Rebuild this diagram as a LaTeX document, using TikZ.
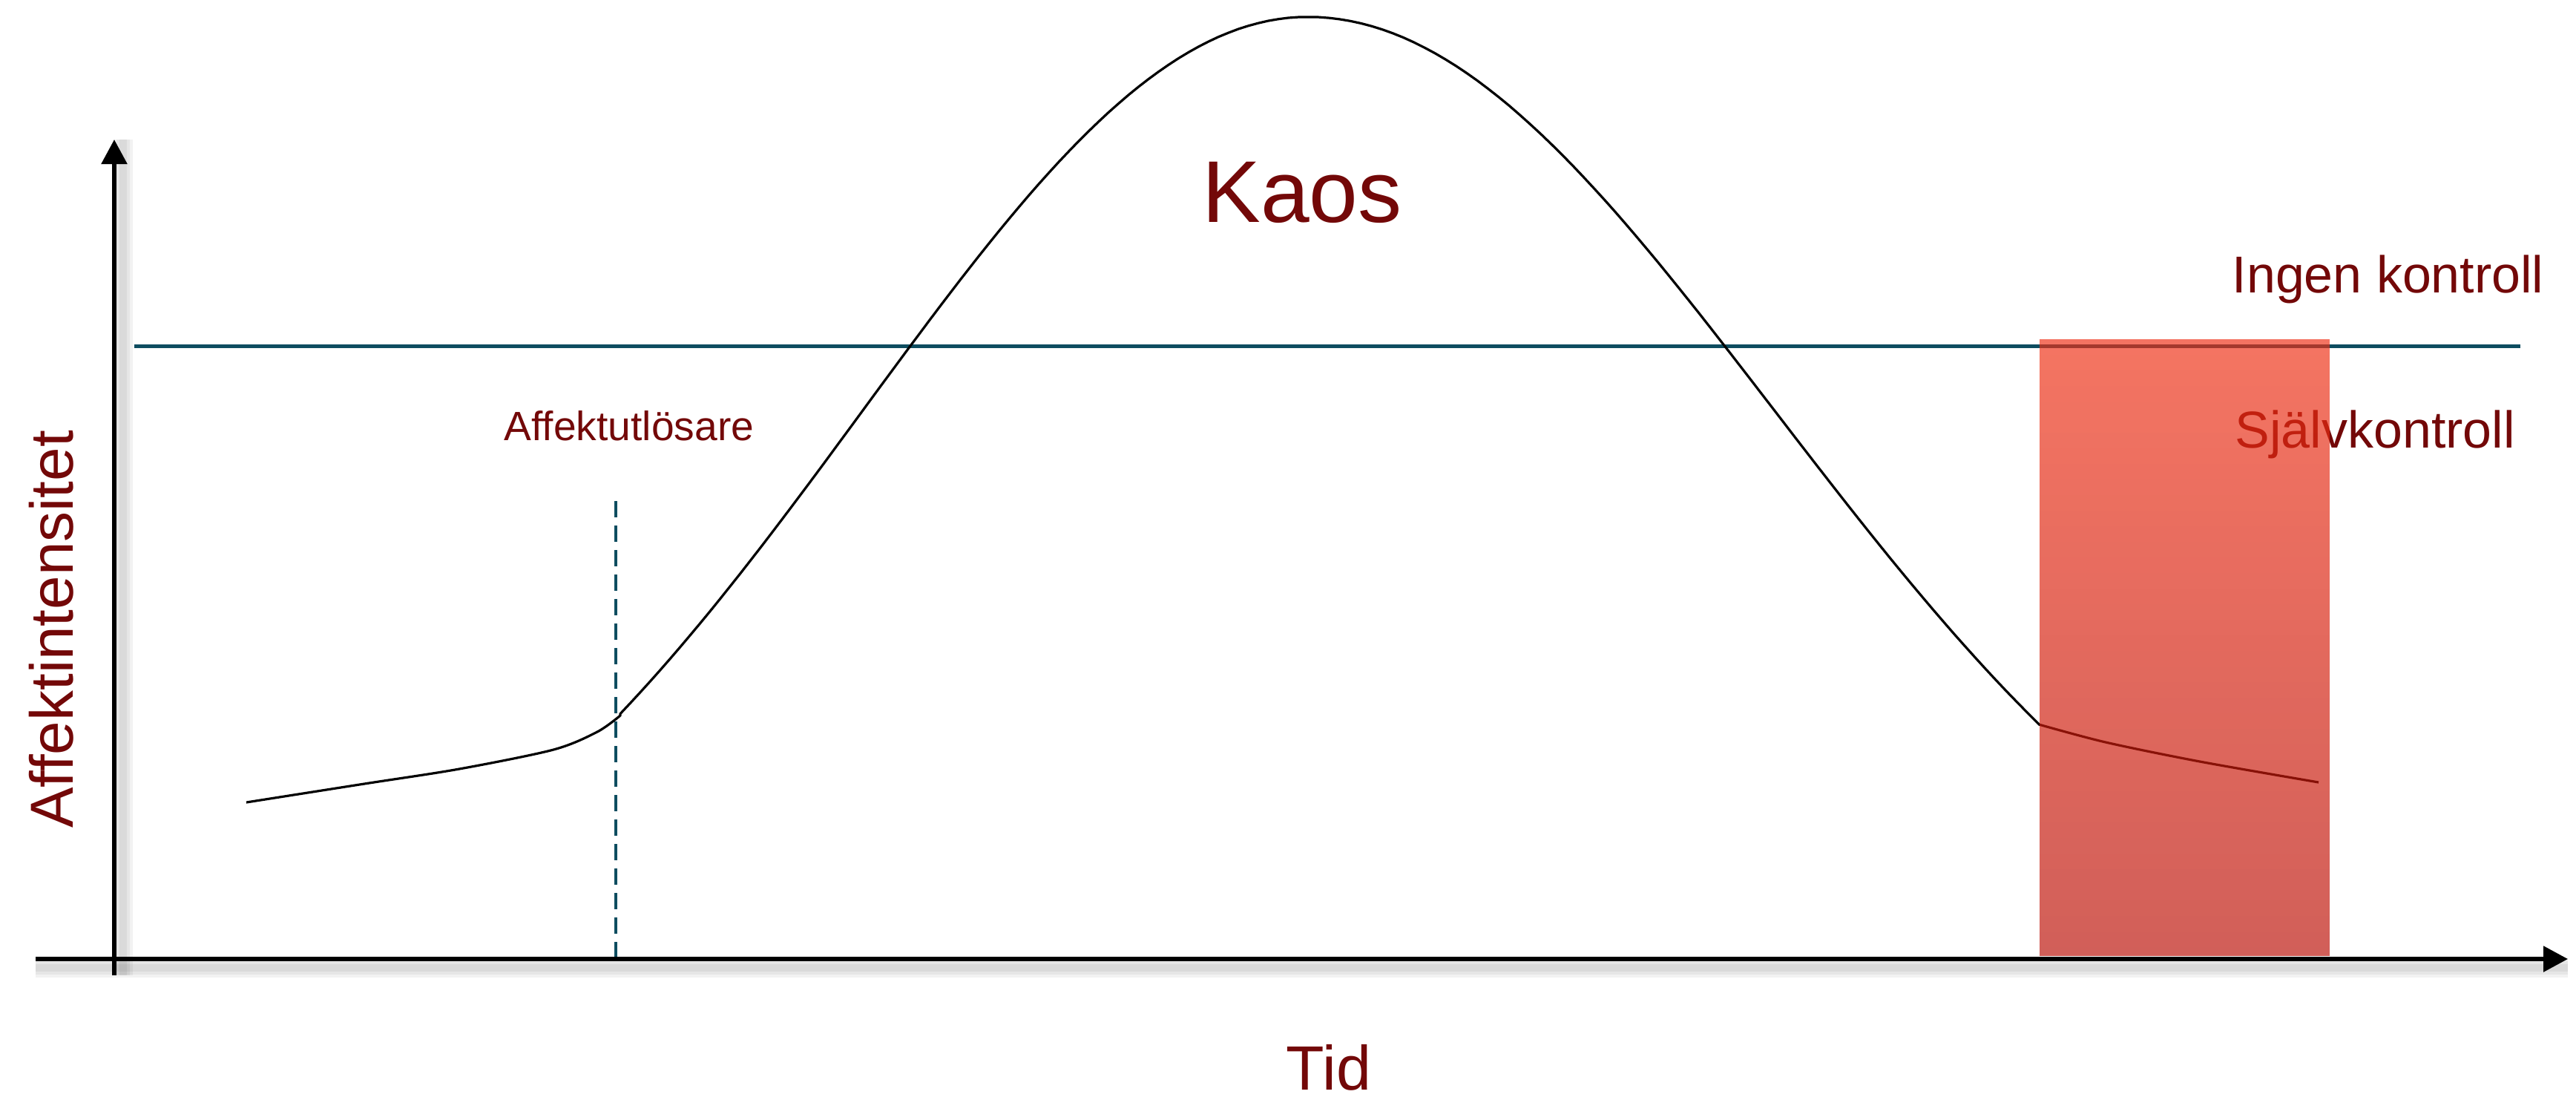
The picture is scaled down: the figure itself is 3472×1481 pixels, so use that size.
\documentclass[tikz,border=0pt]{standalone}
\usepackage{fontspec}
\setmainfont{Liberation Sans}
\usetikzlibrary{arrows.meta}
\definecolor{kaosred}{HTML}{730808}
\definecolor{limitteal}{HTML}{0E4D60}
\definecolor{zonetop}{RGB}{239,48,21}
\definecolor{zonebottom}{RGB}{186,16,7}

\begin{document}
\begin{tikzpicture}[
  x=0.1mm, y=-0.1mm,
  axisline/.style={line width=0.55mm, -{Triangle[length=3.3mm, width=3.4mm]}},
  axisshadow/.style={line width=#1, black, opacity=0.05},
  limit/.style={line width=0.5mm, color=limitteal},
  trigline/.style={line width=0.32mm, color=limitteal, dash pattern=on 2.2mm off 1.1mm},
  affcurve/.style={line width=0.32mm, black, line join=round},
  lbl/.style={inner sep=0pt, text=kaosred},
  zone/.style={fill opacity=0.67}
]
\useasboundingbox (0,0) rectangle (3472,1481);

\coordinate (ybottom) at (154,1314);
\coordinate (ytip) at (154,188);
\coordinate (xstart) at (48,1292);
\coordinate (xtip) at (3461,1292);
\coordinate (limitl) at (181,466);
\coordinate (limitr) at (3397,466);
\coordinate (trigtop) at (830,675);
\coordinate (trigbot) at (830,1289);

\foreach \w in {2.6,1.8,1.0}{
  \draw[axisshadow=\w mm] ([shift={(12,0)}]ybottom) -- ([shift={(12,0)}]ytip);
  \draw[axisshadow=\w mm] ([shift={(0,12)}]xstart) -- ([shift={(0,12)}]xtip);
}

\draw[limit] (limitl) -- (limitr);
\draw[trigline] (trigtop) -- (trigbot);

\draw[affcurve] plot[smooth] coordinates {(332,1081) (491,1056) (619,1036) (746,1010) (805,986) (836,964)}
  -- plot[domain=836:1763, samples=70] (\x, {1370-1347*exp(-((\x-1763)/100)^2/72)})
  -- plot[domain=1763:2748, samples=70] (\x, {1370-1347*exp(-((\x-1763)/100)^2/79)})
  -- plot[smooth] coordinates {(2748,976) (2838,1000) (2965,1026) (3125,1054)};

\node[lbl, font=\fontsize{33.6}{40}\selectfont, anchor=base] (kaos) at (1755,299) {Kaos};
\node[lbl, font=\fontsize{15.7}{19}\selectfont, anchor=base west] (trigger) at (679,593) {Affektutlösare};
\node[lbl, font=\fontsize{19.9}{24}\selectfont, anchor=base west] (ingen) at (3008,394) {Ingen kontroll};
\node[lbl, font=\fontsize{19.9}{24}\selectfont, anchor=base west] (sjalv) at (3012,603) {Självkontroll};
\node[lbl, font=\fontsize{24}{29}\selectfont, anchor=base] (tid) at (1791,1468) {Tid};
\node[lbl, font=\fontsize{23.3}{28}\selectfont, anchor=base, rotate=90] (intens) at (98,848) {Affektintensitet};

\foreach \i in {0,...,39}{
  \pgfmathsetmacro\ztop{457+21*\i}
  \pgfmathsetmacro\zbot{min(457+21*(\i+1),1288)}
  \pgfmathsetmacro\zmix{100-2.5*(\i+0.5)}
  \fill[zone, zonetop!\zmix!zonebottom] (2749,\ztop) rectangle (3140,\zbot);
}

\draw[axisline] (ybottom) -- (ytip);
\draw[axisline] (xstart) -- (xtip);
\end{tikzpicture}
\end{document}
